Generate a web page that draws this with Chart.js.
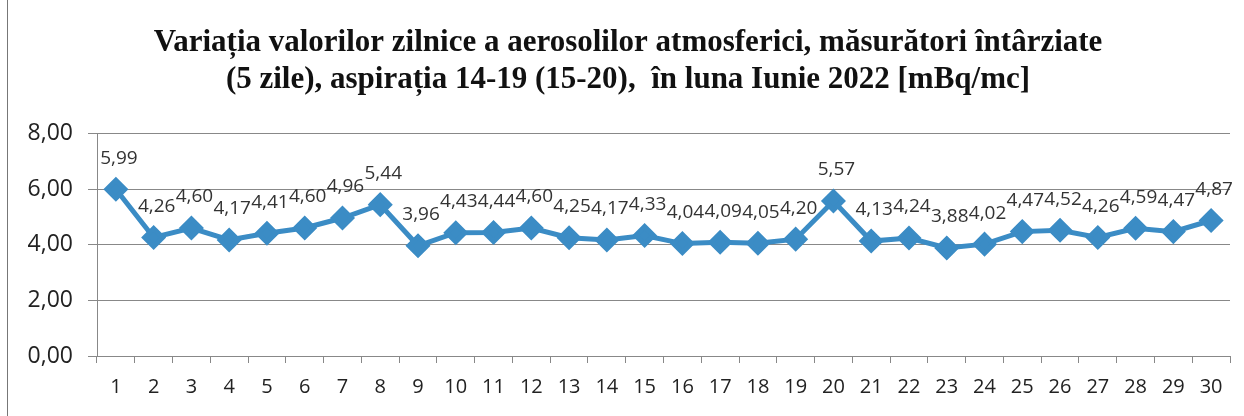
<!DOCTYPE html>
<html>
<head>
<meta charset="utf-8">
<script src="https://cdn.jsdelivr.net/npm/chart.js@4.4.1/dist/chart.umd.min.js"></script>
<style>
  html, body { margin: 0; padding: 0; background: #fff; }
  #wrap { width: 1244px; height: 416px; }
</style>
</head>
<body>
<div id="wrap"><canvas id="chart"></canvas></div>
<script>
const days = ['1','2','3','4','5','6','7','8','9','10','11','12','13','14','15','16','17','18','19','20','21','22','23','24','25','26','27','28','29','30'];
const values = [5.99, 4.26, 4.60, 4.17, 4.41, 4.60, 4.96, 5.44, 3.96, 4.43, 4.44, 4.60, 4.25, 4.17, 4.33, 4.04, 4.09, 4.05, 4.20, 5.57, 4.13, 4.24, 3.88, 4.02, 4.47, 4.52, 4.26, 4.59, 4.47, 4.87];
const titleLines = ['Variația valorilor zilnice a aerosolilor atmosferici, măsurători întârziate', '(5 zile), aspirația 14-19 (15-20),  în luna Iunie 2022 [mBq/mc]'];

const fmt = v => v.toFixed(2).replace('.', ',');

// value labels above each point
const pointLabels = {
    id: 'pointLabels',
    afterDatasetsDraw(chart) {
        const ctx = chart.ctx;
        const meta = chart.getDatasetMeta(0);
        ctx.save();
        ctx.font = '19px "Open Sans"';
        ctx.fillStyle = '#333';
        ctx.textAlign = 'center';
        ctx.textBaseline = 'middle';
        meta.data.forEach((pt, i) => {
            ctx.fillText(fmt(values[i]), pt.x + 3, pt.y - 31);
        });
        ctx.restore();
    }
};

// left frame line
const frame = {
    id: 'frame',
    beforeDraw(chart) {
        const ctx = chart.ctx;
        ctx.save();
        ctx.fillStyle = '#fff';
        ctx.fillRect(0, 0, chart.width, chart.height);
        ctx.strokeStyle = '#777';
        ctx.lineWidth = 1;
        ctx.beginPath();
        ctx.moveTo(7.5, 0);
        ctx.lineTo(7.5, chart.height);
        ctx.stroke();
        ctx.restore();
    }
};

new Chart(document.getElementById('chart').getContext('2d'), {
    type: 'line',
    data: {
        labels: days,
        datasets: [{
            data: values,
            borderColor: '#3b8cc5',
            backgroundColor: '#3b8cc5',
            borderWidth: 5,
            pointStyle: 'rectRot',
            pointRadius: 9,
            pointHoverRadius: 9,
            tension: 0
        }]
    },
    options: {
        responsive: true,
        maintainAspectRatio: false,
        animation: false,
        layout: { padding: { left: 20, right: 8, top: 0, bottom: 10 } },
        plugins: {
            legend: { display: false },
            tooltip: { enabled: false },
            title: {
                display: true,
                text: titleLines,
                color: '#111',
                font: { family: '"Liberation Serif"', size: 31, weight: 'bold', lineHeight: 1.2 },
                padding: { top: 24, bottom: 35 }
            }
        },
        scales: {
            x: {
                offset: true,
                grid: { offset: true, drawOnChartArea: false, drawTicks: true, tickLength: 7, color: '#888' },
                border: { color: '#888' },
                ticks: { color: '#222', font: { family: '"Open Sans"', size: 20 }, padding: 12 },
                afterFit(scale) { scale.height = 50; }
            },
            y: {
                min: 0,
                max: 8,
                ticks: { stepSize: 2, color: '#222', font: { family: '"Open Sans"', size: 23 }, padding: 15, callback: v => fmt(v) },
                grid: { color: '#888', tickLength: 9 },
                border: { color: '#888' },
                afterFit(scale) { scale.width = 77; }
            }
        }
    },
    plugins: [frame, pointLabels]
});
</script>
</body>
</html>
